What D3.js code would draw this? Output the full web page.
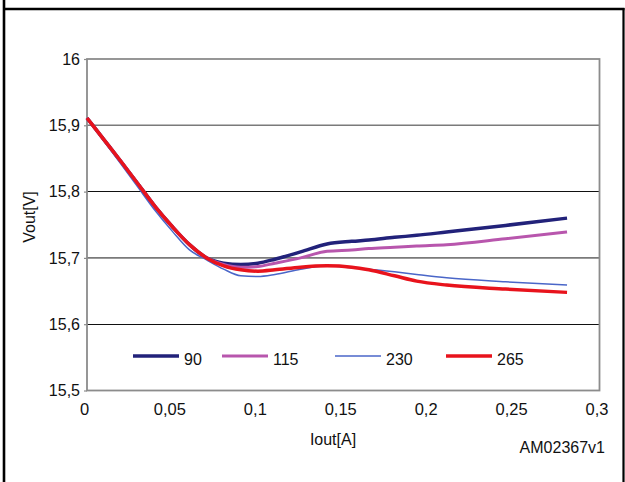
<!DOCTYPE html>
<html><head><meta charset="utf-8">
<script src="https://cdn.jsdelivr.net/npm/d3@7"></script>
<style>html,body{margin:0;padding:0;background:#fff;}svg{display:block;}text{font-family:"Liberation Sans",Arial,sans-serif;}</style>
</head><body>
<div id="chart"></div>
<script>
const iout = [0, 0.01, 0.02, 0.03, 0.04, 0.05, 0.06, 0.07, 0.08, 0.09, 0.1, 0.11, 0.125, 0.1405, 0.155, 0.165, 0.18, 0.193, 0.2105, 0.245, 0.281];
const v90  = [15.911, 15.878, 15.845, 15.811, 15.777, 15.747, 15.720, 15.700, 15.692, 15.690, 15.692, 15.698, 15.709, 15.721, 15.725, 15.727, 15.731, 15.734, 15.739, 15.749, 15.760];
const v115 = [15.911, 15.878, 15.845, 15.811, 15.777, 15.747, 15.720, 15.700, 15.690, 15.686, 15.687, 15.692, 15.700, 15.710, 15.712, 15.714, 15.716, 15.718, 15.720, 15.729, 15.739];
const v230 = [15.911, 15.876, 15.841, 15.806, 15.771, 15.740, 15.712, 15.697, 15.683, 15.673, 15.672, 15.675, 15.683, 15.688, 15.685, 15.683, 15.679, 15.675, 15.670, 15.664, 15.659];
const v265 = [15.911, 15.878, 15.845, 15.811, 15.777, 15.747, 15.720, 15.700, 15.688, 15.682, 15.680, 15.682, 15.686, 15.688, 15.686, 15.682, 15.673, 15.665, 15.659, 15.653, 15.648];
const seriesNames = ["90", "115", "230", "265"];
const seriesColors = ["#22227a", "#b856ad", "#4a66c8", "#e8131c"];
const seriesWidths = [3.5, 3, 1.5, 3.5];
const xTicks = [0, 0.05, 0.1, 0.15, 0.2, 0.25, 0.3];
const yTicks = [15.5, 15.6, 15.7, 15.8, 15.9, 16];
const xTitle = "Iout[A]";
const yTitle = "Vout[V]";
const codeLabel = "AM02367v1";

const W = 625, H = 482;
const svg = d3.select("#chart").append("svg").attr("width", W).attr("height", H);

// outer frame
svg.append("line").attr("x1",4).attr("x2",4).attr("y1",0).attr("y2",H).attr("stroke","#000").attr("stroke-width",2.6);
svg.append("line").attr("x1",3).attr("x2",624.5).attr("y1",9).attr("y2",9).attr("stroke","#000").attr("stroke-width",2.6);
svg.append("line").attr("x1",623.5).attr("x2",623.5).attr("y1",8).attr("y2",H).attr("stroke","#000").attr("stroke-width",2.2);

const x = d3.scaleLinear().domain([0, 0.3]).range([87, 599.5]);
const y = d3.scaleLinear().domain([15.5, 16]).range([390.5, 59]);

const fmt = d => String(d).replace(".", ",");

// gridlines
const grid = svg.append("g");
grid.selectAll("line").data(yTicks.filter(d => d > 15.5 && d < 16)).join("line")
  .attr("x1", x(0)).attr("x2", x(0.3))
  .attr("y1", d => y(d)).attr("y2", d => y(d))
  .attr("stroke", (d,i) => i % 2 === 0 ? "#111" : "#7a7a7a")
  .attr("stroke-width", (d,i) => i % 2 === 0 ? 1 : 1.6)
  .attr("shape-rendering", (d,i) => i % 2 === 0 ? "crispEdges" : null);

// plot border
svg.append("rect").attr("x", x(0)).attr("y", y(16)).attr("width", x(0.3)-x(0)).attr("height", y(15.5)-y(16))
  .attr("fill","none").attr("stroke","#8c8c8c").attr("stroke-width",1.8);

// y axis
const yAxis = d3.axisLeft(y).tickValues(yTicks).tickFormat(fmt).tickSize(3).tickPadding(4);
const gy = svg.append("g").attr("transform", `translate(${x(0)},0)`).call(yAxis);
gy.select(".domain").remove();
gy.selectAll(".tick line").attr("stroke","#8c8c8c").attr("stroke-width",1.2);
gy.selectAll(".tick text").attr("font-size",16).attr("fill","#111").attr("font-family","Liberation Sans, Arial, sans-serif");

// x axis
const xAxis = d3.axisBottom(x).tickValues(xTicks).tickFormat(fmt).tickSize(0).tickPadding(13);
const gx = svg.append("g").attr("transform", `translate(-3,${y(15.5)})`).call(xAxis);
gx.select(".domain").remove();
gx.selectAll(".tick text").attr("font-size",16.5).attr("fill","#111").attr("font-family","Liberation Sans, Arial, sans-serif");

// titles
svg.append("text").attr("x", 333).attr("y", 441).attr("text-anchor","middle").attr("dominant-baseline","middle")
  .attr("font-size",16).attr("fill","#111").text(xTitle);
svg.append("text").attr("transform","translate(31,217) rotate(-90)").attr("text-anchor","middle").attr("dominant-baseline","middle")
  .attr("font-size",16).attr("fill","#111").text(yTitle);
svg.append("text").attr("x", 605).attr("y", 449).attr("text-anchor","end").attr("dominant-baseline","middle")
  .attr("font-size",16).attr("fill","#111").text(codeLabel);

// series
const allSeries = [v90, v115, v230, v265];
const line = d3.line().x(d => x(d[0])).y(d => y(d[1])).curve(d3.curveMonotoneX);
const gl = svg.append("g");
allSeries.forEach((vals, i) => {
  gl.append("path").datum(iout.map((xv, j) => [xv, vals[j]]))
    .attr("d", line).attr("fill","none")
    .attr("stroke", seriesColors[i]).attr("stroke-width", seriesWidths[i])
    .attr("stroke-linejoin","round");
});

// legend
const legX = [133, 222, 335, 446];
const leg = svg.append("g");
seriesNames.forEach((n, i) => {
  leg.append("line").attr("x1", legX[i]).attr("x2", legX[i] + 46).attr("y1", 356).attr("y2", 356)
    .attr("stroke", seriesColors[i]).attr("stroke-width", seriesWidths[i]);
  leg.append("text").attr("x", legX[i] + 51).attr("y", 361).attr("dominant-baseline","middle")
    .attr("font-size",16).attr("fill","#111").text(n);
});
</script>
</body></html>
